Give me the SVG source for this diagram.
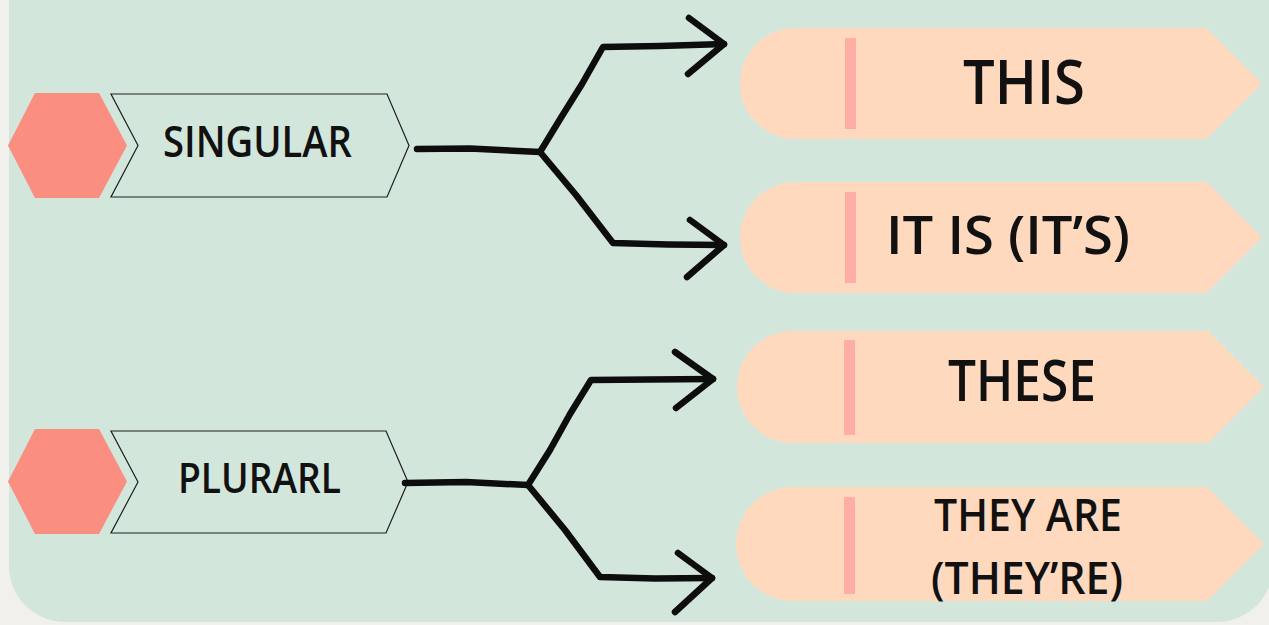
<svg xmlns="http://www.w3.org/2000/svg" width="1269" height="625" viewBox="0 0 1269 625">
  <style>
    .hex { fill: #fa8e80; }
    .chev { fill: none; stroke: #1e1e1e; stroke-width: 1.2; stroke-linejoin: miter; }
    .box { fill: #fed9be; }
    .bar { fill: #feaea4; }
    .lbl { font-family: "Open Sans", "Liberation Sans", sans-serif; font-weight: 600; fill: #111; }
    .con { fill: none; stroke: #0d0d0d; stroke-width: 6.5; stroke-linecap: round; stroke-linejoin: round; }
  </style>
  <rect x="0" y="0" width="1269" height="625" fill="#f1f0ec"/>
  <rect x="9" y="-80" width="1264" height="702" rx="56" ry="56" fill="#d3e6dc"/>

  <g id="singular">
    <polygon class="hex" points="8,145.5 35,93 99,93 127,145.5 99,198 35,198"/>
    <polygon class="chev" points="111,94 387,94 409,145.5 387,197 111,197 138,145.5"/>
    <text class="lbl" x="163" y="157" font-size="43" textLength="189" lengthAdjust="spacingAndGlyphs">SINGULAR</text>
  </g>

  <g id="plural">
    <polygon class="hex" points="8,481.5 35,429 99,429 127,481.5 99,534 35,534"/>
    <polygon class="chev" points="111,431 386,431 408,482 386,533 111,533 138,482"/>
    <text class="lbl" x="178" y="493" font-size="42" textLength="163" lengthAdjust="spacingAndGlyphs">PLURARL</text>
  </g>

  <g id="this">
    <path class="box" d="M795.5,28 H1206.5 L1262,83.5 L1206.5,139 H795.5 A55.5,55.5 0 0 1 795.5,28 Z"/>
    <rect class="bar" x="845" y="38" width="11" height="91"/>
    <text class="lbl" x="963" y="104" font-size="61" textLength="122" lengthAdjust="spacingAndGlyphs">THIS</text>
  </g>

  <g id="it-is">
    <path class="box" d="M795.5,182 H1206.5 L1262,237.5 L1206.5,293 H795.5 A55.5,55.5 0 0 1 795.5,182 Z"/>
    <rect class="bar" x="845" y="192" width="11" height="91"/>
    <text class="lbl" x="886" y="254" font-size="53" textLength="244" lengthAdjust="spacingAndGlyphs">IT IS (IT’S)</text>
  </g>

  <g id="these">
    <path class="box" d="M793,331 H1208 L1264,387 L1208,443 H793 A56,56 0 0 1 793,331 Z"/>
    <rect class="bar" x="844" y="340" width="11" height="95"/>
    <text class="lbl" x="948" y="401" font-size="58" textLength="148" lengthAdjust="spacingAndGlyphs">THESE</text>
  </g>

  <g id="they-are">
    <path class="box" d="M793,487 H1207 L1264,544 L1207,601 H793 A57,57 0 0 1 793,487 Z"/>
    <rect class="bar" x="844" y="497" width="11" height="97"/>
    <text class="lbl" x="934" y="531" font-size="45" textLength="188" lengthAdjust="spacingAndGlyphs">THEY ARE</text>
    <text class="lbl" x="931" y="594" font-size="45" textLength="192" lengthAdjust="spacingAndGlyphs">(THEY’RE)</text>
  </g>

  <g id="connectors">
    <path class="con" d="M417,149 L470,148.5 L540,152"/>
    <path class="con" d="M540,152 L562,116 L582,84 L603,47 L660,46 L724,44"/>
    <path class="con" d="M689,18 L724,44 L688,74"/>
    <path class="con" d="M540,152 L576,195 L613,243 L668,244.5 L724,245"/>
    <path class="con" d="M690,220 L724,245 L687,277"/>

    <path class="con" d="M405,483 L466,482 L528,485"/>
    <path class="con" d="M528,485 L550,450 L570,414 L591,380 L650,379.5 L713,379"/>
    <path class="con" d="M675,352 L713,379 L676,408"/>
    <path class="con" d="M528,485 L565,530 L600,577 L655,578.5 L712,578"/>
    <path class="con" d="M678,553 L712,578 L675,612"/>
  </g>
</svg>
